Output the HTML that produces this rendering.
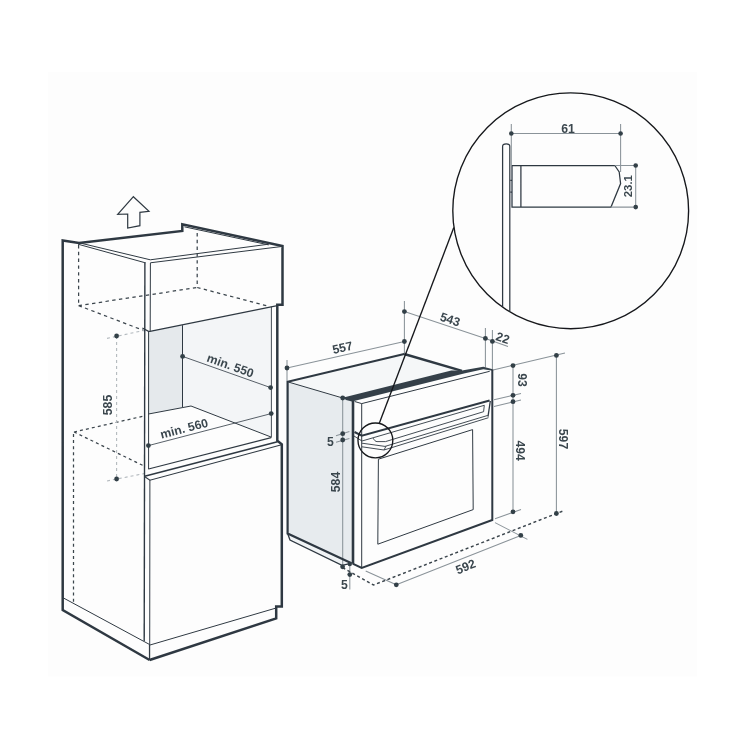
<!DOCTYPE html>
<html>
<head>
<meta charset="utf-8">
<title>Oven installation dimensions</title>
<style>
html,body{margin:0;padding:0;background:#ffffff;}
body{width:750px;height:750px;overflow:hidden;position:relative;font-family:"Liberation Sans",sans-serif;}
svg{position:absolute;left:0;top:0;display:block;}
text{font-family:"Liberation Sans",sans-serif;font-weight:bold;fill:#3a464e;}
.k{stroke:#2f3942;fill:none;stroke-linecap:butt;stroke-linejoin:miter;}
.g{stroke:#8a9399;fill:none;stroke-width:1.05;}
.gd{stroke:#b3b9be;fill:none;stroke-width:1.1;stroke-dasharray:3 3;}
.d{stroke:#3a444c;fill:none;stroke-width:1.25;stroke-dasharray:3.4 3.4;}
.dot{fill:#333f47;stroke:none;}
.b{stroke:#15181b;fill:none;stroke-width:1.35;}
</style>
</head>
<body>
<svg width="750" height="750" viewBox="0 0 750 750">
<rect x="0" y="0" width="750" height="750" fill="#ffffff"/>
<rect x="48" y="72" width="649" height="604.5" fill="#fdfdfd"/>
<defs><filter id="soft" x="0" y="0" width="750" height="750" filterUnits="userSpaceOnUse"><feGaussianBlur stdDeviation="0.42"/></filter></defs>
<g filter="url(#soft)">

<!-- ================= CABINET ================= -->
<g id="cabinet">
  <!-- niche shading -->
  <polygon points="148.5,331.3 182.5,325.2 182.5,407.6 148.5,414" fill="#e5e9ec"/>
  <polygon points="182.5,325.2 271,307 271,437 191,406 182.5,407.6" fill="#f3f5f7"/>

  <!-- dashed hidden lines -->
  <path class="d" d="M78.6,245 L78.6,305.6 M78.6,305.6 L197.2,287.5 M197.2,233 L197.2,287.5 M197.2,287.5 L266.5,305.7 M78.6,305.6 L145,331"/>
  <path class="d" style="stroke-dasharray:3 3.1" d="M74,432 L144,416 M74,432 L144,466 M73.5,434 L73.5,602"/>

  <!-- 585 dimension -->
  <path class="gd" d="M116.6,336 L116.6,479 M107,338.4 L144,330.4 M107,481 L144,473.6"/>
  <circle class="dot" cx="116.6" cy="336" r="2.4"/>
  <circle class="dot" cx="116.6" cy="479" r="2.4"/>

  <!-- outer thick outline -->
  <path class="k" stroke-width="2.5" d="M149.6,660 L62.7,610 L62.7,240.4 L79,243 L182.3,231 L182.3,224.2 L282.5,246 L282.5,304.8 L277.3,304.8 L277.3,440.6 L281.8,444.4 L281.8,606.6 L276.2,606.6 L276.2,618.4 L149.6,660"/>

  <!-- top thin lines -->
  <path class="k" stroke-width="1" d="M80,243 L150.3,259.8 L268.7,244.2 M78,244.2 L144.6,262.6 M184.4,226.8 L268.7,244.9 M150.3,262.8 L281,246.6"/>
  <!-- front-left double vertical -->
  <path class="k" stroke-width="1.4" d="M144.9,262 L144.2,641"/>
  <path class="k" stroke-width="1" d="M150.4,263 L150.2,331.3 M148.6,331.3 L148.6,469.2 M149.9,479.8 L149.7,660"/>
  <!-- fascia bottom -->
  <path class="k" stroke-width="1.2" d="M142.4,328 L148.5,331.3 L150,331.3 L277.3,305.6"/>
  <!-- niche interior -->
  <path class="k" stroke-width="1" d="M182.5,325.2 L182.5,407.6 M148.5,414 L182.5,407.6 L191,406 L271,437"/>
  <path class="k" stroke-width="0.9" d="M271.4,306.8 L271.4,437.6"/>
  <!-- niche floor front edges -->
  <path class="k" stroke-width="1.1" d="M148.5,469 L271.2,437.6"/>
  <path class="k" stroke-width="1.5" d="M144.6,476.2 L277.5,441.8"/>
  <path class="k" stroke-width="1.1" d="M145.2,477 L149.9,480.2 L281.6,444.8"/>
  <!-- dimension lines min 550 / 560 -->
  <path class="k" stroke-width="0.8" d="M182.6,356.4 L270.6,387.6 M148.4,445.6 L271.2,413.6"/>
  <circle class="dot" cx="182.6" cy="356.4" r="2.4"/>
  <circle class="dot" cx="270.6" cy="387.6" r="2.4"/>
  <circle class="dot" cx="271.2" cy="413.6" r="2.4"/>
  <circle class="dot" cx="148.4" cy="445.6" r="2.4"/>
  <!-- plinth -->
  <path class="k" stroke-width="1" d="M63.5,598 L149.4,644.4 L149.4,660 M150,645 L276.2,608"/>
</g>

<!-- arrow -->
<path class="k" stroke-width="1.2" d="M133.4,196.7 L149,211.3 L139.9,212.4 L139.9,225.7 L127.7,228 L127.7,214 L117.7,214.3 Z"/>

<!-- texts cabinet -->
<text font-size="12.2" text-anchor="middle" transform="translate(111.8,405) rotate(-90)">585</text>
<text font-size="12.2" text-anchor="middle" transform="translate(229,369.5) rotate(19.5)">min. 550</text>
<text font-size="12.2" text-anchor="middle" transform="translate(185.2,432.6) rotate(-14.6)">min. 560</text>

<!-- ================= OVEN ================= -->
<g id="oven">
  <!-- left side shading -->
  <polygon points="287.6,381.8 342.7,398 353,400.5 353,563.5 351,563 290,539.5 287.6,533.6" fill="#e7ebee"/>
  <polygon points="287.6,533.6 351,563 342,565 290,540" fill="#f0f3f5"/>
  <!-- top shading -->
  <polygon points="287.6,381.8 404.2,354 462,370.8 344,397.6" fill="#f5f7f8"/>

  <!-- gray dimension/ext lines -->
  <path class="g" d="M287,360 L287,381 M404.4,301 L404.4,353.4 M287,368 L404.4,341.5 M404.4,311.6 L485.4,338.4 L508,346.6"/>
  <path class="g" d="M485.4,328 L485.4,367.4 M492.4,330 L492.4,369"/>
  <path class="g" d="M493,370 L565,353 M494,399.8 L521,393.5 M494,406.4 L521,400"/>
  <path class="g" d="M513,365.6 L513,511.8 M556.4,355.4 L556.4,513.5"/>
  <path class="g" d="M495,518.8 L521,509.4 M495,522.6 L527.4,539.4 M520.8,535.4 L396.3,584.8 M365.7,570.9 L396.3,584.8"/>
  <path class="g" d="M342.7,398 L342.7,566.6 M336,435.8 L349.4,431.6 M336,442.2 L349.4,438.4 M349.8,563 L349.8,589.5"/>

  <!-- dashed footprint -->
  <path class="d" style="stroke-dasharray:3 2.6;stroke-width:1.45" d="M342.6,567.6 L373.5,585 L564,510.6"/>

  <!-- body -->
  <path class="k" stroke-width="2.2" d="M404.2,354 L287.6,381.8 L287.6,533.6 L351.5,563.2"/>
  <path class="k" stroke-width="2.4" d="M404.2,354 L462,370.8"/>
  <path class="k" stroke-width="1" d="M287.6,381.8 L342.7,398"/>
  <path class="k" stroke-width="1.3" d="M287.8,534 L290,540 L342,565.4 L351,563.4"/>
  <!-- dark band top of front -->
  <polygon points="343.5,397.4 451.3,370.6 462,370.6 483.3,366.7 492.8,369.2 492.8,370.8 483.3,369.3 465,373.2 352,401.6 346,400" fill="#34414a"/>
  <!-- front frame -->
  <path class="k" stroke-width="2.6" d="M353,400.6 L353,563.8"/>
  <path class="k" stroke-width="2" d="M492.3,369.4 L492.3,520 L361.7,568 L352.6,563.6"/>
  <path class="k" stroke-width="1" d="M361.7,403.6 L361.7,568 M354.7,401.5 L361.7,403.6 L489.7,371.3"/>
  <!-- control panel bottom / door top -->
  <path class="k" stroke-width="2.1" d="M354.5,432 L361.8,435.7 L489.6,400.6"/>
  <path class="k" stroke-width="0.9" d="M354,436 L362,441 M362,441 L484.3,405.3"/>
  <!-- handle -->
  <path class="k" stroke-width="0.9" d="M373.2,438.2 C374.5,440.6 375.5,441.5 377,441.6 L385.5,441.6 L483.6,411.7 L484.3,405.3"/>
  <path class="k" stroke-width="0.9" d="M362,443.2 L385,446.4 L487.8,415.4 M362,446.8 L384,450 L386,446.2 M384,450 L488.5,417.7"/>
  <path class="k" stroke-width="1.3" d="M490.3,401 L488,416.6"/>
  <!-- window -->
  <path class="k" stroke-width="1" d="M378.4,459.2 L472.6,429.6 L473.2,509.6 L377.8,544.2 Z"/>

  <!-- dots -->
  <circle class="dot" cx="287" cy="368" r="2.4"/>
  <circle class="dot" cx="404.4" cy="341.5" r="2.4"/>
  <circle class="dot" cx="404.4" cy="311.6" r="2.4"/>
  <circle class="dot" cx="485.4" cy="338.4" r="2.4"/>
  <circle class="dot" cx="492.4" cy="341.4" r="2.4"/>
  <circle class="dot" cx="513" cy="365.6" r="2.4"/>
  <circle class="dot" cx="513" cy="395.3" r="2.4"/>
  <circle class="dot" cx="513" cy="401.7" r="2.4"/>
  <circle class="dot" cx="513" cy="511.8" r="2.4"/>
  <circle class="dot" cx="556.4" cy="355.4" r="2.4"/>
  <circle class="dot" cx="556.4" cy="513.5" r="2.4"/>
  <circle class="dot" cx="520.8" cy="535.4" r="2.4"/>
  <circle class="dot" cx="396.3" cy="584.8" r="2.4"/>
  <circle class="dot" cx="342.7" cy="398" r="2.4"/>
  <circle class="dot" cx="342.7" cy="433.7" r="2.4"/>
  <circle class="dot" cx="342.7" cy="440" r="2.4"/>
  <circle class="dot" cx="342.6" cy="566.8" r="2.4"/>
  <circle class="dot" cx="349.8" cy="564" r="2.2"/>
  <circle class="dot" cx="349.8" cy="574.6" r="2.4"/>
</g>

<!-- oven texts -->
<text font-size="12.2" text-anchor="middle" transform="translate(343.4,351.8) rotate(-12.8)">557</text>
<text font-size="12.2" text-anchor="middle" transform="translate(448.8,323.4) rotate(18.3)">543</text>
<text font-size="12.2" text-anchor="middle" transform="translate(501.4,342) rotate(18.3)">22</text>
<text font-size="12.2" text-anchor="middle" transform="translate(517.6,380) rotate(90)">93</text>
<text font-size="12.2" text-anchor="middle" transform="translate(515.6,450.6) rotate(90)">494</text>
<text font-size="12.2" text-anchor="middle" transform="translate(559.4,439) rotate(90)">597</text>
<text font-size="12.2" text-anchor="middle" transform="translate(339.8,482) rotate(-90)">584</text>
<text font-size="12.2" text-anchor="middle" transform="translate(467.2,570.6) rotate(-21.8)">592</text>
<text font-size="12.2" text-anchor="middle" x="330.4" y="446.2">5</text>
<text font-size="12.2" text-anchor="middle" x="344.4" y="589">5</text>

<!-- ================= DETAIL CIRCLE ================= -->
<g id="detail">
  <circle class="b" cx="570.7" cy="210.8" r="117.9"/>
  <circle class="b" cx="375.4" cy="440.4" r="17.4"/>
  <path class="b" d="M453.8,227.4 L379.2,423.4"/>
  <!-- door panel edge -->
  <path class="k" stroke-width="1.25" d="M502.6,307 L502.6,146.4 C502.6,143 509.8,143 509.8,146.4 L509.8,311.4"/>
  <!-- handle profile -->
  <path class="k" stroke-width="1.25" d="M512,165.5 L614.8,165.5 L619.2,172 L620.6,183.6 L611,207.1 L512,207.1 Z M520.9,165.5 L520.9,207.1 M510.3,180.4 L512,180.4 M510.3,192 L512,192"/>
  <!-- dims -->
  <path class="g" d="M511.3,124 L511.3,165.5 M620.6,124 L620.6,172 M511.3,133.5 L620.6,133.5 M614.8,165.5 L638,165.5 M611,207.1 L638,207.1 M635.7,165.5 L635.7,207.1"/>
  <circle class="dot" cx="511.3" cy="133.5" r="2.3"/>
  <circle class="dot" cx="620.6" cy="133.5" r="2.3"/>
  <circle class="dot" cx="635.7" cy="165.5" r="2.3"/>
  <circle class="dot" cx="635.7" cy="207.1" r="2.3"/>
</g>
<text font-size="12.2" text-anchor="middle" x="568" y="132.8">61</text>
<text font-size="11.4" text-anchor="middle" transform="translate(632,186.2) rotate(-90)">23.1</text>
</g>
</svg>
</body>
</html>
